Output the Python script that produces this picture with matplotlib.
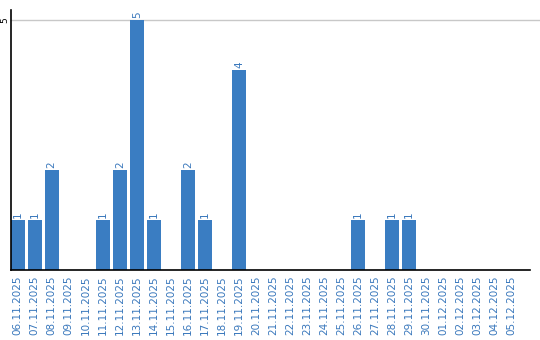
import matplotlib.pyplot as plt

dates = ['06.11.2025', '07.11.2025', '08.11.2025', '09.11.2025', '10.11.2025',
         '11.11.2025', '12.11.2025', '13.11.2025', '14.11.2025', '15.11.2025',
         '16.11.2025', '17.11.2025', '18.11.2025', '19.11.2025', '20.11.2025',
         '21.11.2025', '22.11.2025', '23.11.2025', '24.11.2025', '25.11.2025',
         '26.11.2025', '27.11.2025', '28.11.2025', '29.11.2025', '30.11.2025',
         '01.12.2025', '02.12.2025', '03.12.2025', '04.12.2025', '05.12.2025']
counts = [1, 1, 2, 0, 0, 1, 2, 5, 1, 0, 2, 1, 0, 4, 0,
          0, 0, 0, 0, 0, 1, 0, 1, 1, 0, 0, 0, 0, 0, 0]

bar_color = '#3a7dc2'
text_color = '#3a78bc'

fig = plt.figure(figsize=(5.4, 3.4), dpi=100)
ax = fig.add_axes([10.7 / 540, 70 / 340, 519.3 / 540, 260 / 340])

x = list(range(len(dates)))
ax.bar(x, counts, width=14 / 17, color=bar_color, zorder=2)

for xi, c in zip(x, counts):
    if c > 0:
        ax.text(xi, c + 0.05, str(c), rotation=90, ha='center', va='bottom',
                color=text_color, fontsize=7.5)

ax.axhline(5, color='#c8c8c8', linewidth=1, zorder=1, clip_on=False, xmax=1.02)

ax.set_xlim(-0.41, 30.1)
ax.set_ylim(0, 5.2)
ax.set_yticks([5])
ax.set_yticklabels(['5'], rotation=90, va='center', fontsize=6.5)
ax.tick_params(axis='y', length=0, pad=1)
ax.set_xticks(x)
ax.set_xticklabels(dates, rotation=90, color=text_color, fontsize=7.5)
ax.tick_params(axis='x', length=0, pad=4)

for side in ['top', 'right']:
    ax.spines[side].set_visible(False)
for side in ['left', 'bottom']:
    ax.spines[side].set_linewidth(1.2)

fig.savefig('out.png', dpi=100)
